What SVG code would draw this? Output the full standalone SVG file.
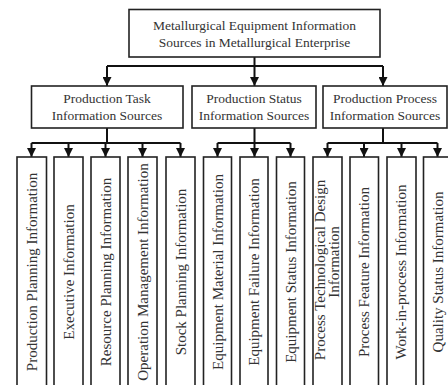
<svg xmlns="http://www.w3.org/2000/svg" width="448" height="385" viewBox="0 0 448 385">
<style>
.box{fill:#fff;stroke:#222;stroke-width:1.6}
.t{font-family:"Liberation Serif","Times New Roman",serif;font-size:13.5px;fill:#333;text-anchor:middle}
.lt{font-family:"Liberation Serif","Times New Roman",serif;font-size:15px;fill:#333;text-anchor:middle}
.c{fill:none;stroke:#111;stroke-width:2}
</style>
<defs>
<marker id="ah" markerUnits="userSpaceOnUse" markerWidth="9" markerHeight="9" refX="9" refY="4.5" orient="auto">
<path d="M0,0 L9,4.5 L0,9 z" fill="#111"/>
</marker>
</defs>
<rect width="448" height="385" fill="#fff"/>
<g id="connectors">
<path class="c" d="M254.5,57 V66 M107,66 H383"/>
<path class="c" d="M107,66 V86" marker-end="url(#ah)"/>
<path class="c" d="M254.5,66 V86" marker-end="url(#ah)"/>
<path class="c" d="M383,66 V86" marker-end="url(#ah)"/>
<path class="c" d="M107,128 V143 M31.5,143 H180.5"/>
<path class="c" d="M31.5,143 V157" marker-end="url(#ah)"/>
<path class="c" d="M68.5,143 V157" marker-end="url(#ah)"/>
<path class="c" d="M105.5,143 V157" marker-end="url(#ah)"/>
<path class="c" d="M142.5,143 V157" marker-end="url(#ah)"/>
<path class="c" d="M180.5,143 V157" marker-end="url(#ah)"/>
<path class="c" d="M254.5,128 V143 M217.5,143 H290.5"/>
<path class="c" d="M217.5,143 V157" marker-end="url(#ah)"/>
<path class="c" d="M254.5,143 V157" marker-end="url(#ah)"/>
<path class="c" d="M290.5,143 V157" marker-end="url(#ah)"/>
<path class="c" d="M383,128 V143 M327.5,143 H437.5"/>
<path class="c" d="M327.5,143 V157" marker-end="url(#ah)"/>
<path class="c" d="M364,143 V157" marker-end="url(#ah)"/>
<path class="c" d="M401.5,143 V157" marker-end="url(#ah)"/>
<path class="c" d="M437.5,143 V157" marker-end="url(#ah)"/>
</g>
<g id="root">
<rect class="box" x="129" y="9.5" width="251" height="47.5"/>
<text class="t" x="254.5" y="29.5">Metallurgical Equipment Information</text>
<text class="t" x="254.5" y="46.5">Sources in Metallurgical Enterprise</text>
</g>
<g id="task">
<rect class="box" x="31.5" y="86" width="151.5" height="42"/>
<text class="t" x="107" y="103">Production Task</text>
<text class="t" x="107" y="120">Information Sources</text>
</g>
<g id="status">
<rect class="box" x="192" y="86" width="124" height="42"/>
<text class="t" x="254" y="103">Production Status</text>
<text class="t" x="254" y="120">Information Sources</text>
</g>
<g id="process">
<rect class="box" x="323" y="86" width="124" height="42"/>
<text class="t" x="385" y="103">Production Process</text>
<text class="t" x="385" y="120">Information Sources</text>
</g>
<g id="leaf1"><rect class="box" x="17" y="157" width="29.5" height="235"/><text class="lt" transform="translate(36.5,272) rotate(-90)">Production Planning Information</text></g>
<g id="leaf2"><rect class="box" x="54" y="157" width="29" height="235"/><text class="lt" transform="translate(73.5,272) rotate(-90)">Executive Information</text></g>
<g id="leaf3"><rect class="box" x="91" y="157" width="29" height="235"/><text class="lt" transform="translate(110.5,272) rotate(-90)">Resource Planning Information</text></g>
<g id="leaf4"><rect class="box" x="128" y="157" width="29" height="235"/><text class="lt" transform="translate(147.5,272) rotate(-90)">Operation Management Information</text></g>
<g id="leaf5"><rect class="box" x="166" y="157" width="29" height="235"/><text class="lt" transform="translate(185.5,272) rotate(-90)">Stock Planning Information</text></g>
<g id="leaf6"><rect class="box" x="203.5" y="157" width="28" height="235"/><text class="lt" transform="translate(222.5,272) rotate(-90)">Equipment Material Information</text></g>
<g id="leaf7"><rect class="box" x="240" y="157" width="28" height="235"/><text class="lt" transform="translate(259,272) rotate(-90)">Equipment Failure Information</text></g>
<g id="leaf8"><rect class="box" x="276.5" y="157" width="28" height="235"/><text class="lt" transform="translate(295.5,272) rotate(-90)">Equipment Status Information</text></g>
<g id="leaf9"><rect class="box" x="313" y="157" width="29" height="235"/><text class="lt" transform="translate(324.5,270) rotate(-90)">Process Technological Design</text><text class="lt" transform="translate(338.5,262) rotate(-90)">Information</text></g>
<g id="leaf10"><rect class="box" x="350" y="157" width="28.5" height="235"/><text class="lt" transform="translate(369,272) rotate(-90)">Process Feature Information</text></g>
<g id="leaf11"><rect class="box" x="387" y="157" width="29" height="235"/><text class="lt" transform="translate(406,272) rotate(-90)">Work-in-process Information</text></g>
<g id="leaf12"><rect class="box" x="423.5" y="157" width="29" height="235"/><text class="lt" transform="translate(442.5,272) rotate(-90)">Quality Status Information</text></g>
</svg>
